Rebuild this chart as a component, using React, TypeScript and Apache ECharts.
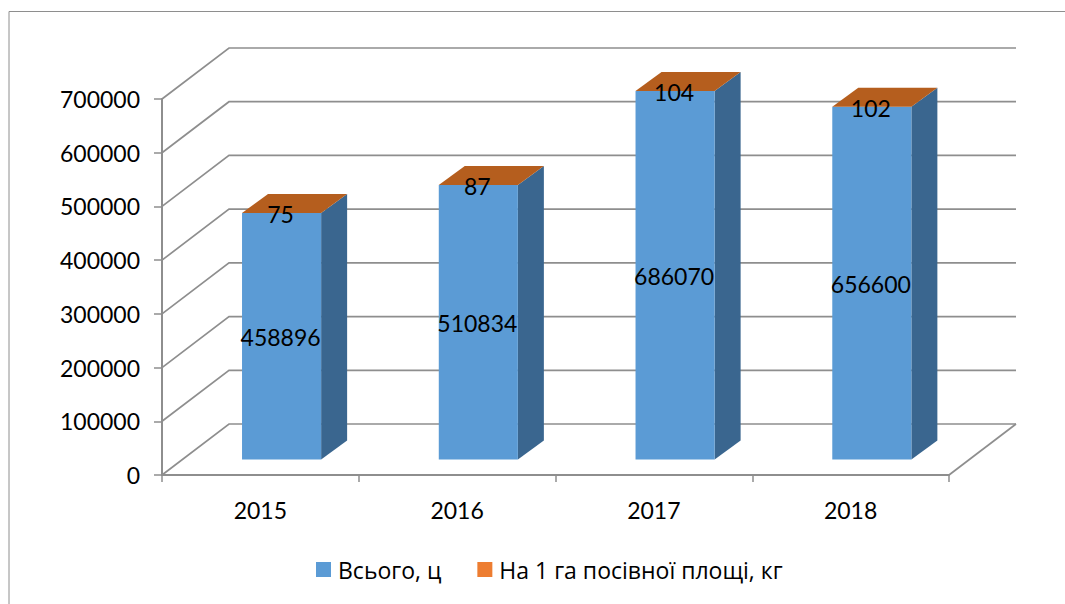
import React, { useEffect, useRef } from "react";
import * as echarts from "echarts";

const categories = ["2015", "2016", "2017", "2018"];
const totalValues = [458896, 510834, 686070, 656600];
const perHectareValues = [75, 87, 104, 102];
const axisTicks = [0, 100000, 200000, 300000, 400000, 500000, 600000, 700000];
const seriesNames = ["Всього, ц", "На 1 га посівної площі, кг"];

const FONT = "Lato, 'Open Sans', sans-serif";
const LEGEND_FONT = "'Open Sans', sans-serif";
const AXIS = "#8e8e8e";
const WALL_DX = 67;
const WALL_DY = -51;
const BAR_DX = 26;
const BAR_DY = -19;
const BAR_OFF_X = 21.2;
const BAR_OFF_Y = -15.5;
const BAR_RATIO = 0.402;

function poly(points: number[][], fill: string) {
  return { type: "polygon", shape: { points }, style: { fill, stroke: null } };
}

export default function App() {
  const ref = useRef<HTMLDivElement>(null);
  useEffect(() => {
    const chart = echarts.init(ref.current!, undefined, { renderer: "svg" });
    const option: any = {
      animation: false,
      backgroundColor: "#ffffff",
      textStyle: { fontFamily: FONT },
      grid: { left: 162, top: 99, width: 787, height: 376 },
      legend: {
        show: true,
        data: seriesNames.map((name) => ({ name, icon: "rect" })),
        left: 316,
        top: 558,
        padding: 0,
        itemWidth: 15,
        itemHeight: 15,
        itemGap: 36,
        selectedMode: false,
        textStyle: { fontFamily: LEGEND_FONT, fontSize: 23, color: "#000", padding: [0, 0, 0, 2] },
      },
      graphic: [
        {
          type: "polyline",
          silent: true,
          shape: { points: [[9, 604], [9, 11.5], [1065, 11.5]] },
          style: { stroke: "#8e8e8e", lineWidth: 1, fill: null },
        },
      ],
      xAxis: {
        type: "category",
        data: categories,
        axisLine: { lineStyle: { color: AXIS, width: 2 } },
        axisTick: { show: true, length: 7, alignWithLabel: false, lineStyle: { color: AXIS, width: 1.5 } },
        axisLabel: { fontFamily: FONT, fontSize: 23, color: "#000", margin: 23 },
        splitLine: { show: false },
      },
      yAxis: {
        type: "value",
        min: 0,
        max: 700000,
        interval: 100000,
        axisLine: { show: true, lineStyle: { color: AXIS, width: 2 } },
        axisTick: { show: true, length: 8, lineStyle: { color: AXIS, width: 1.5 } },
        axisLabel: { fontFamily: FONT, fontSize: 23, color: "#000", margin: 22, formatter: (v: number) => String(v) },
        splitLine: { show: false },
      },
      series: [
        {
          type: "custom",
          name: "wall",
          silent: true,
          clip: false,
          z: 1,
          data: axisTicks.map((v) => [0, v]),
          renderItem: (params: any, api: any) => {
            const cs = params.coordSys;
            const y = api.coord([0, api.value(1)])[1];
            const x0 = cs.x;
            const x1 = cs.x + cs.width;
            const children: any[] = [
              {
                type: "polyline",
                shape: { points: [[x0, y], [x0 + WALL_DX, y + WALL_DY], [x1 + WALL_DX, y + WALL_DY]] },
                style: { stroke: AXIS, lineWidth: 1.7, fill: null },
              },
            ];
            if (api.value(1) === 0) {
              children.push({
                type: "line",
                shape: { x1, y1: y, x2: x1 + WALL_DX, y2: y + WALL_DY },
                style: { stroke: AXIS, lineWidth: 1.7 },
              });
            }
            return { type: "group", children };
          },
        },
        {
          type: "custom",
          name: seriesNames[0],
          silent: true,
          clip: false,
          z: 3,
          itemStyle: { color: "#5b9bd5" },
          data: totalValues.map((v, i) => [i, v]),
          renderItem: (params: any, api: any) => {
            const band = api.size([1, 0])[0];
            const w = band * BAR_RATIO;
            const top = api.coord([api.value(0), api.value(1)]);
            const base = api.coord([api.value(0), 0]);
            const left = top[0] - w / 2 + BAR_OFF_X;
            const right = left + w;
            const yb = base[1] + BAR_OFF_Y;
            const yt = top[1] + BAR_OFF_Y;
            return {
              type: "group",
              children: [
                poly([[right, yt], [right + BAR_DX, yt + BAR_DY], [right + BAR_DX, yb + BAR_DY], [right, yb]], "#3a668f"),
                { type: "rect", shape: { x: left, y: yt, width: w, height: yb - yt }, style: { fill: "#5b9bd5" } },
                {
                  type: "text",
                  z2: 10,
                  style: {
                    x: (left + right) / 2 - 1,
                    y: (yt + yb) / 2 + 1,
                    text: String(api.value(1)),
                    fill: "#000",
                    fontFamily: FONT,
                    fontSize: 23,
                    align: "center",
                    verticalAlign: "middle",
                  },
                },
              ],
            };
          },
        },
        {
          type: "custom",
          name: seriesNames[1],
          silent: true,
          clip: false,
          z: 4,
          itemStyle: { color: "#ed7d31" },
          data: perHectareValues.map((v, i) => [i, totalValues[i], v]),
          renderItem: (params: any, api: any) => {
            const band = api.size([1, 0])[0];
            const w = band * BAR_RATIO;
            const top = api.coord([api.value(0), api.value(1) + api.value(2)]);
            const left = top[0] - w / 2 + BAR_OFF_X;
            const right = left + w;
            const yt = top[1] + BAR_OFF_Y;
            return {
              type: "group",
              children: [
                poly([[left, yt], [left + BAR_DX, yt + BAR_DY], [right + BAR_DX, yt + BAR_DY], [right, yt]], "#b55e1e"),
                {
                  type: "text",
                  z2: 10,
                  style: {
                    x: (left + right) / 2 - 1,
                    y: yt + 1,
                    text: String(api.value(2)),
                    fill: "#000",
                    fontFamily: FONT,
                    fontSize: 23,
                    align: "center",
                    verticalAlign: "middle",
                  },
                },
              ],
            };
          },
        },
      ],
    };
    chart.setOption(option);
    return () => chart.dispose();
  }, []);
  return (
    <div
      ref={ref}
      style={{ position: "fixed", left: 0, top: 0, width: 1065, height: 604, overflow: "hidden" }}
    />
  );
}
